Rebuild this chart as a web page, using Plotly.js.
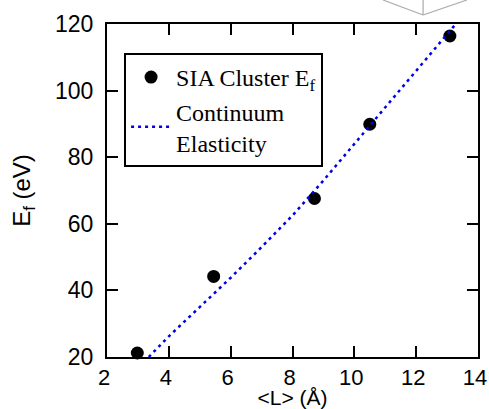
<!DOCTYPE html>
<html><head><meta charset="utf-8">
<script src="https://cdn.plot.ly/plotly-3.0.1.min.js"></script>
<style>html,body{margin:0;padding:0;background:#fff;}#plot{width:489px;height:409px;}</style>
</head><body><div id="plot"></div>
<script>
// Data
const clusterL = [2.98, 5.45, 8.71, 10.5, 13.09];
const clusterEf = [21.2, 44.2, 67.6, 89.9, 116.4];
const contL = [3.35, 4, 5, 6, 7, 8, 9, 10, 11, 12, 13.28];
const contEf = [20, 26.2, 35, 43.8, 53, 62.5, 73, 84, 95, 106, 120];
const xTicks = [2, 4, 6, 8, 10, 12, 14];
const yTicks = [20, 40, 60, 80, 100, 120];

const traces = [
  {x: clusterL, y: clusterEf, mode: 'markers', type: 'scatter',
   name: 'SIA Cluster E<sub>f</sub>',
   marker: {color: '#000', size: 13, symbol: 'circle'}, cliponaxis: false},
  {x: contL, y: contEf, mode: 'lines', type: 'scatter',
   name: 'Continuum<br>Elasticity',
   line: {color: '#0000e6', width: 2.5, dash: '3px,4px'}}
];
const sans = 'Liberation Sans, Arial, Helvetica, sans-serif';
const axisCommon = {
  showgrid: false, zeroline: false, showline: true, linecolor: '#000', linewidth: 2,
  mirror: 'ticks', ticks: 'inside', ticklen: 11, tickwidth: 2, tickcolor: '#000',
  ticklabeloverflow: 'allow',
  tickfont: {family: sans, size: 23, color: '#000'}
};
const layout = {
  width: 489, height: 409,
  margin: {l: 107, r: 11, t: 24, b: 52},
  paper_bgcolor: '#fff', plot_bgcolor: '#fff',
  showlegend: true,
  legend: {x: 0.046, y: 0.913, xanchor: 'left', yanchor: 'top',
    bgcolor: '#fff', bordercolor: '#000', borderwidth: 2,
    itemwidth: 40,
    font: {family: 'Liberation Serif, Times New Roman, serif', size: 24, color: '#000'},
    tracegroupgap: 0},
  xaxis: Object.assign({}, axisCommon, {range: [2, 14], tickvals: xTicks,
    ticklabelstandoff: 0, ticklabelshift: -3,
    tickfont: {family: sans, size: 22, color: '#000'},
    title: {text: '&lt;L&gt; (Å)', standoff: 16,
      font: {family: sans, size: 21, color: '#000'}}}),
  yaxis: Object.assign({}, axisCommon, {range: [20, 120], tickvals: yTicks,
    ticklabelstandoff: 7,
    title: {text: 'E<sub>f</sub> (eV)', standoff: 18,
      font: {family: sans, size: 24, color: '#000'}}}),
  shapes: [
    {type: 'line', xref: 'paper', yref: 'paper', x0: 0.744, y0: 1.072, x1: 0.852, y1: 1.027, line: {color: '#aaa', width: 1.2}},
    {type: 'line', xref: 'paper', yref: 'paper', x0: 0.852, y0: 1.072, x1: 0.852, y1: 1.027, line: {color: '#aaa', width: 1.2}},
    {type: 'line', xref: 'paper', yref: 'paper', x0: 0.97, y0: 1.072, x1: 0.852, y1: 1.027, line: {color: '#aaa', width: 1.2}}
  ]
};
Plotly.newPlot('plot', traces, layout, {staticPlot: true, displayModeBar: false});
</script></body></html>
